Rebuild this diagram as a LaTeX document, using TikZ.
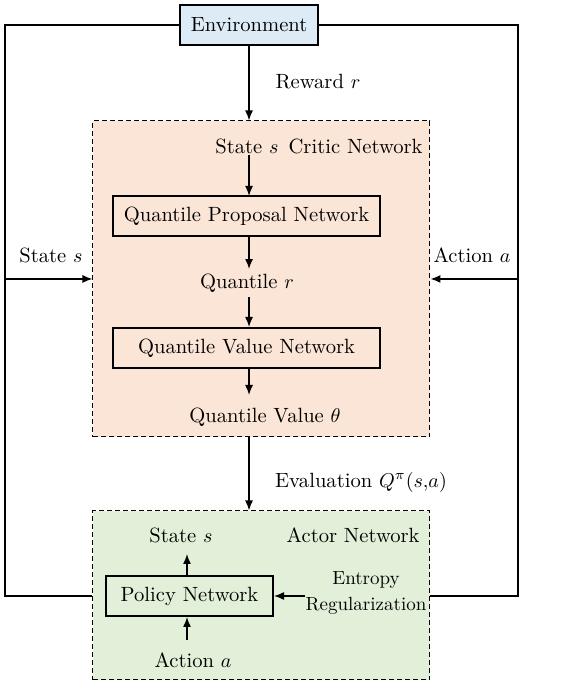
\documentclass[tikz,border=0pt]{standalone}
\usetikzlibrary{arrows.meta}
\definecolor{envblue}{HTML}{DDEBF7}
\definecolor{criticorange}{HTML}{FBE5D6}
\definecolor{actorgreen}{HTML}{E2F0D9}
\tikzset{
	netbox/.style={draw, line width=1pt, minimum height=0.703cm, inner sep=0pt},
	areabox/.style={draw, line width=0.5pt, dash pattern=on 2.5pt off 1.5pt, inner sep=0pt},
	lbl/.style={inner sep=0pt},
	arr/.style={line width=0.7pt, -{Latex[length=5pt,width=4pt]}},
	wire/.style={line width=0.7pt}
}
\begin{document}
\begin{tikzpicture}[font=\fontsize{10.3}{12}\selectfont]
		\useasboundingbox (0, 0) rectangle (9.946, 12.037);

		% shaded areas
		\node[areabox, fill=criticorange, minimum width=5.922cm, minimum height=5.553cm] (critic) at (4.595, 7.135) {};
		\node[areabox, fill=actorgreen, minimum width=5.922cm, minimum height=2.970cm] (actor) at (4.595, 1.573) {};

		\node[netbox, fill=envblue, minimum width=2.425cm] (env) at (4.376, 11.598) {Environment};

		% critic network
		\node[lbl] (cstate) at (4.341, 9.472) {State $s$};
		\node[lbl, anchor=east] (ctitle) at (7.433, 9.472) {Critic Network};
		\node[netbox, minimum width=4.692cm] (qpn) at (4.332, 8.242) {Quantile Proposal Network};
		\node[lbl] (qr) at (4.341, 7.064) {Quantile $r$};
		\node[netbox, minimum width=4.692cm] (qvn) at (4.332, 5.922) {Quantile Value Network};
		\node[lbl] (qv) at (4.657, 4.710) {Quantile Value $\theta$};

		% actor network
		\node[lbl] (astate) at (3.181, 2.636) {State $s$};
		\node[lbl, anchor=east] (atitle) at (7.380, 2.636) {Actor Network};
		\node[netbox, minimum width=2.935cm] (policy) at (3.330, 1.564) {Policy Network};
		\node[lbl] (aaction) at (3.392, 0.439) {Action $a$};
		\node[lbl, align=center, font=\fontsize{9.5}{13}\selectfont] (entropy) at (6.432, 1.617) {Entropy\\Regularization};

		% outside labels
		\node[lbl] (reward) at (5.588, 10.597) {Reward $r$};
		\node[lbl] (lstate) at (0.896, 7.556) {State $s$};
		\node[lbl] (raction) at (8.294, 7.556) {Action $a$};
		\node[lbl] (evalq) at (6.344, 3.567) {Evaluation $Q^{\pi}(s{,}a)$};

		% loop
		\coordinate (ltop) at (0.088, 11.598);
		\coordinate (lbot) at (0.088, 1.564);
		\coordinate (lmid) at (0.088, 7.135);
		\coordinate (rtop) at (9.103, 11.598);
		\coordinate (rbot) at (9.103, 1.564);
		\coordinate (rmid) at (9.103, 7.135);
		\draw[wire] (env.west) -- (ltop) -- (lbot) -- (lbot -| actor.west);
		\draw[wire] (env.east) -- (rtop) -- (rbot) -- (rbot -| actor.east);
		\draw[arr] (lmid) -- (lmid -| critic.west);
		\draw[arr] (rmid) -- (rmid -| critic.east);

		\draw[arr] (env.south) -- (env.south |- critic.north);
		\draw[arr] (4.376, 9.314) -- (4.376, 8.594);
		\draw[arr] (qpn.south -| 4.376, 0) -- (4.376, 7.310);
		\draw[arr] (4.376, 6.818) -- (qvn.north -| 4.376, 0);
		\draw[arr] (qvn.south -| 4.376, 0) -- (4.376, 5.096);
		\draw[arr] (critic.south -| env.south) -- (env.south |- actor.north);

		\draw[arr] (policy.north -| 3.286, 0) -- (3.286, 2.302);
		\draw[arr] (3.286, 0.791) -- (policy.south -| 3.286, 0);
		\draw[arr] (entropy.west |- policy.east) -- (policy.east);
	\end{tikzpicture}
\end{document}
